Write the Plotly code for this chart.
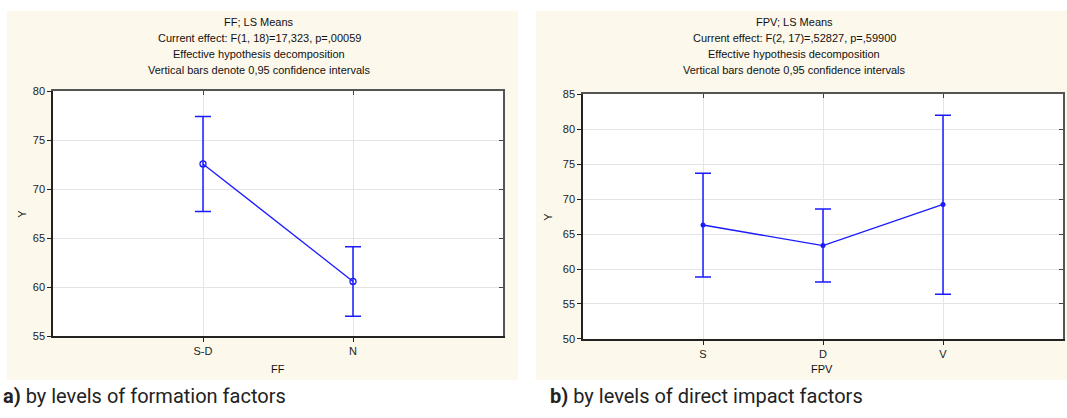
import plotly.graph_objects as go

W, H = 1067, 418

# ---- data ----
ff_levels = ["S-D", "N"]
ff_mean = [72.6, 60.6]
ff_upper = [77.45, 64.15]
ff_lower = [67.75, 57.05]

fpv_levels = ["S", "D", "V"]
fpv_mean = [66.3, 63.35, 69.25]
fpv_upper = [73.7, 68.6, 82.0]
fpv_lower = [58.85, 58.15, 56.4]

ff_title = ["FF; LS Means", "Current effect: F(1, 18)=17,323, p=,00059",
            "Effective hypothesis decomposition", "Vertical bars denote 0,95 confidence intervals"]
fpv_title = ["FPV; LS Means", "Current effect: F(2, 17)=,52827, p=,59900",
             "Effective hypothesis decomposition", "Vertical bars denote 0,95 confidence intervals"]

BLUE = "#1a1aff"
CREAM = "#fdf8ec"
FONT = "Liberation Sans, Arial, sans-serif"
FS = 11


def px(x):
    return x / W


def py(y):
    return 1 - y / H


fig = go.Figure()

ff_x = list(range(len(ff_levels)))
fig.add_trace(go.Scatter(
    x=ff_x, y=ff_mean, mode="lines+markers",
    line=dict(color=BLUE, width=1.3),
    marker=dict(symbol="circle-open", size=6, color=BLUE, line=dict(width=1.3)),
    error_y=dict(type="data", symmetric=False,
                 array=[u - m for u, m in zip(ff_upper, ff_mean)],
                 arrayminus=[m - l for l, m in zip(ff_lower, ff_mean)],
                 color=BLUE, thickness=1.5, width=8),
    xaxis="x", yaxis="y", showlegend=False))

fpv_x = list(range(len(fpv_levels)))
fig.add_trace(go.Scatter(
    x=fpv_x, y=fpv_mean, mode="lines+markers",
    line=dict(color=BLUE, width=1.3),
    marker=dict(symbol="circle", size=5, color=BLUE),
    error_y=dict(type="data", symmetric=False,
                 array=[u - m for u, m in zip(fpv_upper, fpv_mean)],
                 arrayminus=[m - l for l, m in zip(fpv_lower, fpv_mean)],
                 color=BLUE, thickness=1.5, width=8),
    xaxis="x2", yaxis="y2", showlegend=False))

tickfont = dict(family=FONT, size=FS, color="#222")
gridc = "#e4e4e4"

left_xd = [px(53), px(503)]
left_yd = [py(340), py(88)]
right_xd = [px(583), px(1063)]
right_yd = [py(342.7), py(91)]

common_x = dict(showgrid=True, gridcolor=gridc, gridwidth=1, zeroline=False,
                ticks="outside", ticklen=4, tickcolor="#222", showline=True,
                linecolor="#222", linewidth=1.5, tickfont=tickfont)
common_y = dict(showgrid=True, gridcolor=gridc, gridwidth=1, zeroline=False,
                ticks="outside", ticklen=4, tickcolor="#222", showline=True,
                linecolor="#222", linewidth=1.5, tickfont=tickfont, dtick=5)
mirror = dict(showticklabels=False, ticks="inside", ticklen=4, tickcolor="#444",
              showgrid=False, zeroline=False, showline=True, linecolor="#555", linewidth=2)

fig.update_layout(
    xaxis=dict(domain=left_xd, anchor="y", range=[-1, 2], tickvals=ff_x,
               ticktext=ff_levels, **common_x),
    yaxis=dict(domain=left_yd, anchor="x", range=[55, 80], **common_y),
    xaxis2=dict(domain=right_xd, anchor="y2", range=[-1, 3], tickvals=fpv_x,
                ticktext=fpv_levels, **common_x),
    yaxis2=dict(domain=right_yd, anchor="x2", range=[50, 85], **common_y),
    xaxis3=dict(domain=left_xd, anchor="y3", overlaying="x", side="top", range=[-1, 2],
                tickvals=ff_x, **mirror),
    yaxis3=dict(domain=left_yd, anchor="x3", overlaying="y", side="right", range=[55, 80],
                dtick=5, **mirror),
    xaxis4=dict(domain=right_xd, anchor="y4", overlaying="x2", side="top", range=[-1, 3],
                tickvals=fpv_x, **mirror),
    yaxis4=dict(domain=right_yd, anchor="x4", overlaying="y2", side="right", range=[50, 85],
                dtick=5, **mirror),
    width=W, height=H, margin=dict(l=0, r=0, t=0, b=0),
    paper_bgcolor="white", plot_bgcolor="white",
    font=dict(family=FONT, size=FS, color="#222"),
)

fig.add_trace(go.Scatter(x=[None], y=[None], xaxis="x3", yaxis="y3", showlegend=False, hoverinfo="skip"))
fig.add_trace(go.Scatter(x=[None], y=[None], xaxis="x4", yaxis="y4", showlegend=False, hoverinfo="skip"))

shapes = [
    dict(type="rect", xref="paper", yref="paper", x0=px(7), x1=px(518), y0=py(385), y1=py(5),
         fillcolor=CREAM, line=dict(width=0), layer="below"),
    dict(type="rect", xref="paper", yref="paper", x0=px(536), x1=px(1067), y0=py(385), y1=py(5),
         fillcolor=CREAM, line=dict(width=0), layer="below"),
    dict(type="rect", xref="paper", yref="paper", x0=left_xd[0], x1=left_xd[1],
         y0=left_yd[0], y1=left_yd[1], fillcolor="white", line=dict(width=0), layer="below"),
    dict(type="rect", xref="paper", yref="paper", x0=right_xd[0], x1=right_xd[1],
         y0=right_yd[0], y1=right_yd[1], fillcolor="white", line=dict(width=0), layer="below"),
]
fig.update_layout(shapes=shapes)


def label(text, x, y, size=FS, angle=0, xanchor="center", family=FONT, color="#111"):
    return dict(text=text, x=px(x), y=py(y), xref="paper", yref="paper", showarrow=False,
                xanchor=xanchor, yanchor="middle", textangle=angle,
                font=dict(family=family, size=size, color=color))


ann = []
for i, t in enumerate(ff_title):
    ann.append(label(t, 259, 16.5 + 16.3 * i))
for i, t in enumerate(fpv_title):
    ann.append(label(t, 794, 16.5 + 16.3 * i))
ann += [
    label("FF", 278, 374),
    label("FPV", 822, 374),
    label("Y", 22, 214, angle=-90),
    label("Y", 548, 217, angle=-90),
    label("<b>a)</b> by levels of formation factors", 1, 402, size=20, xanchor="left",
          family="Roboto", color="#222"),
    label("<b>b)</b> by levels of direct impact factors", 548, 402, size=20, xanchor="left",
          family="Roboto", color="#222"),
]
fig.update_layout(annotations=ann)

fig.write_html("out.html")
